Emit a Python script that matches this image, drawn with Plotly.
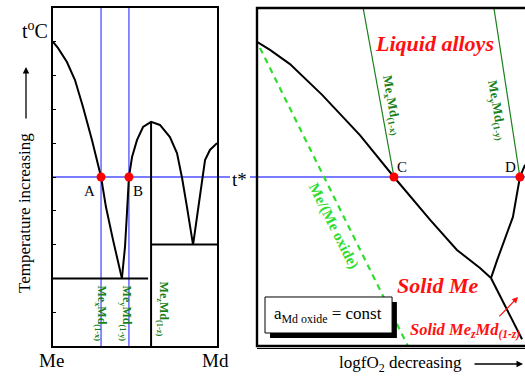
import plotly.graph_objects as go

W, H = 525, 377
SERIF = "Liberation Serif"

# ---------------- left panel: T - composition diagram (0 = Me, 1 = Md; T in arbitrary units) ----------
liq_me_x = [0.0, 0.03, 0.085, 0.134, 0.183, 0.238, 0.293, 0.323, 0.366, 0.42]
liq_me_t = [90, 88.2, 84, 78.7, 70.7, 60.9, 50, 41.1, 31.4, 20]
liq_mid_x = [0.42, 0.439, 0.451, 0.463, 0.482, 0.512, 0.549, 0.598,
             0.652, 0.713, 0.756, 0.787, 0.817, 0.854]
liq_mid_t = [20, 29.3, 39.3, 50, 55.9, 60.9, 64.8, 66.3,
             65.4, 61.8, 57.1, 49.7, 41.1, 29.9]
liq_md_x = [0.854, 0.884, 0.909, 0.927, 0.957, 1.0]
liq_md_t = [29.9, 40.5, 49.4, 55, 58, 60]

eutectic1_x, eutectic1_t = [0.0, 0.58], [20, 20]
eutectic2_x, eutectic2_t = [0.598, 1.0], [30, 30]
compound_x, compound_t = [0.598, 0.598], [66.3, 0]

comp_lines_x = [0.293, 0.463]          # Me_xMd(1-x), Me_yMd(1-y)
t_star = 50
ab_x = [0.293, 0.463]
temp_ticks = [10, 20, 30, 40, 50, 60, 70, 80, 90]

# ---------------- right panel: T - logfO2 diagram (u = decreasing logfO2, 0..100) ----------
liq_r_u = [0, 4.85, 12.3, 24.3, 38.4, 51.1, 64.6, 74.6, 83.2, 87.3]
liq_r_t = [90, 87.6, 83.4, 74.3, 62.4, 50, 37.3, 28.4, 23.1, 20.1]
bound_up_u = [87.3, 89.6, 95.5, 98.1, 100]
bound_up_t = [20.1, 25.4, 38.2, 50, 53.6]
bound_lo_u = [87.3, 98.9]
bound_lo_t = [20.1, 2]
tie_x_u, tie_x_t = [39.6, 51.1], [100, 50]
tie_y_u, tie_y_t = [88.4, 98.1], [100, 50]
oxide_u, oxide_t = [1.1, 56.3], [88.2, 0]
cd_u = [51.1, 98.1]

BLUE = "#4f4fff"
DKGREEN = "#1a7f1a"
LIME = "#2fdc2f"
RED = "#ff1010"

fig = go.Figure()


def add_line(x, y, ax, color="black", width=2, dash=None):
    xa, ya = ("x", "y") if ax == 1 else ("x2", "y2")
    fig.add_trace(go.Scatter(x=x, y=y, xaxis=xa, yaxis=ya, mode="lines",
                             line=dict(color=color, width=width, dash=dash),
                             hoverinfo="skip", showlegend=False))


# left panel
for cx in comp_lines_x:
    add_line([cx, cx], [0, 100], 1, BLUE, 1.3)
add_line(liq_me_x, liq_me_t, 1)
add_line(liq_mid_x, liq_mid_t, 1)
add_line(liq_md_x, liq_md_t, 1)
add_line(eutectic1_x, eutectic1_t, 1)
add_line(eutectic2_x, eutectic2_t, 1)
add_line(compound_x, compound_t, 1)
fig.add_trace(go.Scatter(x=ab_x, y=[t_star] * 2, mode="markers", cliponaxis=False,
                         marker=dict(color="red", size=9), hoverinfo="skip", showlegend=False))

# right panel
add_line(tie_x_u, tie_x_t, 2, DKGREEN, 1.2)
add_line(tie_y_u, tie_y_t, 2, DKGREEN, 1.2)
add_line(oxide_u, oxide_t, 2, LIME, 2.2, "6px,5px")
add_line(liq_r_u, liq_r_t, 2)
add_line(bound_up_u, bound_up_t, 2)
add_line(bound_lo_u, bound_lo_t, 2)
fig.add_trace(go.Scatter(x=cd_u, y=[t_star] * 2, xaxis="x2", yaxis="y2", mode="markers",
                         cliponaxis=False, marker=dict(color="red", size=9),
                         hoverinfo="skip", showlegend=False))

ydom = [1 - 346 / H, 1 - 8 / H]
fig.update_layout(
    width=W, height=H, margin=dict(l=0, r=0, t=0, b=0),
    paper_bgcolor="white", plot_bgcolor="white",
    xaxis=dict(domain=[53 / W, 217 / W], range=[0, 1], showgrid=False, zeroline=False,
               showticklabels=False, ticks="", showline=True, mirror=True,
               linecolor="black", linewidth=2),
    yaxis=dict(domain=ydom, range=[0, 100], showgrid=False, zeroline=False,
               showticklabels=False, ticks="inside", ticklen=3, tickwidth=1,
               tickcolor="black", tickvals=temp_ticks, showline=True, mirror=True,
               linecolor="black", linewidth=2),
    xaxis2=dict(domain=[257 / W, 1], range=[0, 100], showgrid=False, zeroline=False,
                showticklabels=False, ticks="", anchor="y2"),
    yaxis2=dict(domain=ydom, range=[0, 100], showgrid=False, zeroline=False,
                showticklabels=False, ticks="", anchor="x2"),
)

shapes = [
    # t* isotherm across both panels
    dict(type="line", xref="paper", yref="y", x0=53 / W, x1=230 / W, y0=t_star, y1=t_star,
         line=dict(color=BLUE, width=1.3), layer="below"),
    dict(type="line", xref="paper", yref="y2", x0=250 / W, x1=1, y0=t_star, y1=t_star,
         line=dict(color=BLUE, width=1.3), layer="below"),
    # right frame, with a thin offset edge along the bottom
    dict(type="path", xref="x2 domain", yref="y2 domain",
         path="M 1.02,1 L 0,1 L 0,0 L 1.02,0", line=dict(color="black", width=2.4)),
    dict(type="line", xref="x2 domain", yref="paper", x0=0, x1=1.02,
         y0=1 - 348.5 / H, y1=1 - 348.5 / H, line=dict(color="black", width=1)),
    # activity box with shadow
    dict(type="rect", xref="x2", yref="y2", x0=4.85, x1=52.2, y0=2.37, y1=13.0,
         fillcolor="black", line=dict(width=0)),
    dict(type="rect", xref="x2", yref="y2", x0=2.99, x1=50.4, y0=3.85, y1=14.5,
         fillcolor="white", line=dict(color="black", width=1)),
]
fig.update_layout(shapes=shapes)


def px(x):
    return x / W


def py(y):
    return 1 - y / H


ann = []


def text(t, x, y, size, color="black", ref="paper", angle=0, **kw):
    xr, yr = {"paper": ("paper", "paper"), 1: ("x", "y"), 2: ("x2", "y2")}[ref]
    if ref == "paper":
        x, y = px(x), py(y)
    ann.append(dict(text=t, x=x, y=y, xref=xr, yref=yr, showarrow=False, textangle=angle,
                    font=dict(family=SERIF, size=size, color=color),
                    xanchor=kw.get("xanchor", "center"), yanchor="middle"))


text("t<sup>o</sup>C", 35, 30, 20)
text("Temperature increasing", 24, 213, 17, angle=-90)
text("Me", 51, 360, 19)
text("Md", 215, 360, 19)
text("A", 89, 191, 15)
text("B", 138, 191, 15)
text("t*", 239, 179, 19)
text("C", 402, 167, 15)
text("D", 510, 167, 15)
text("logfO<sub>2</sub> decreasing", 400, 364, 17)

text("<b>Me<sub>x</sub>Md<sub>(1-x)</sub></b>", 0.293, 9.6, 12, DKGREEN, 1, 90)
text("<b>Me<sub>y</sub>Md<sub>(1-y)</sub></b>", 0.445, 9.6, 12, DKGREEN, 1, 90)
text("<b>Me<sub>z</sub>Md<sub>(1-z)</sub></b>", 0.668, 10.9, 12, DKGREEN, 1, 90)

text("<b>Me<sub>x</sub>Md<sub>(1-x)</sub></b>", 50.4, 71.3, 13, DKGREEN, 2, 80)
text("<b>Me<sub>y</sub>Md<sub>(1-y)</sub></b>", 89.6, 69.8, 13, DKGREEN, 2, 80)
text("<b><i>Liquid alloys</i></b>", 66.4, 89.6, 22, RED, 2)
text("<b><i>Solid Me</i></b>", 67.5, 18.0, 22, RED, 2)
text("<b><i>Solid Me<sub>z</sub>Md<sub>(1-z)</sub></i></b>", 56.3, 4.6, 16.5, RED, 2,
     xanchor="left")
text("<b>Me/(Me oxide)</b>", 28.7, 35.5, 15, LIME, 2, 63.4)
text("a<sub>Md oxide</sub> = const", 26.5, 9.2, 17, "black", 2)

# arrows
ann.append(dict(x=px(26), y=py(67), xref="paper", yref="paper", ax=0, ay=53,
                showarrow=True, arrowhead=2, arrowsize=1, arrowwidth=1.3,
                arrowcolor="black", text=""))
ann.append(dict(x=px(523), y=py(364), xref="paper", yref="paper", ax=-50, ay=0,
                showarrow=True, arrowhead=2, arrowsize=1, arrowwidth=1.3,
                arrowcolor="black", text=""))
ann.append(dict(x=97.4, y=14.5, xref="x2", yref="y2", ax=89.9, ay=8.3,
                axref="x2", ayref="y2", showarrow=True, arrowhead=2, arrowsize=1,
                arrowwidth=1.2, arrowcolor=RED, text=""))
fig.update_layout(annotations=ann)

fig.write_html("out.html")
